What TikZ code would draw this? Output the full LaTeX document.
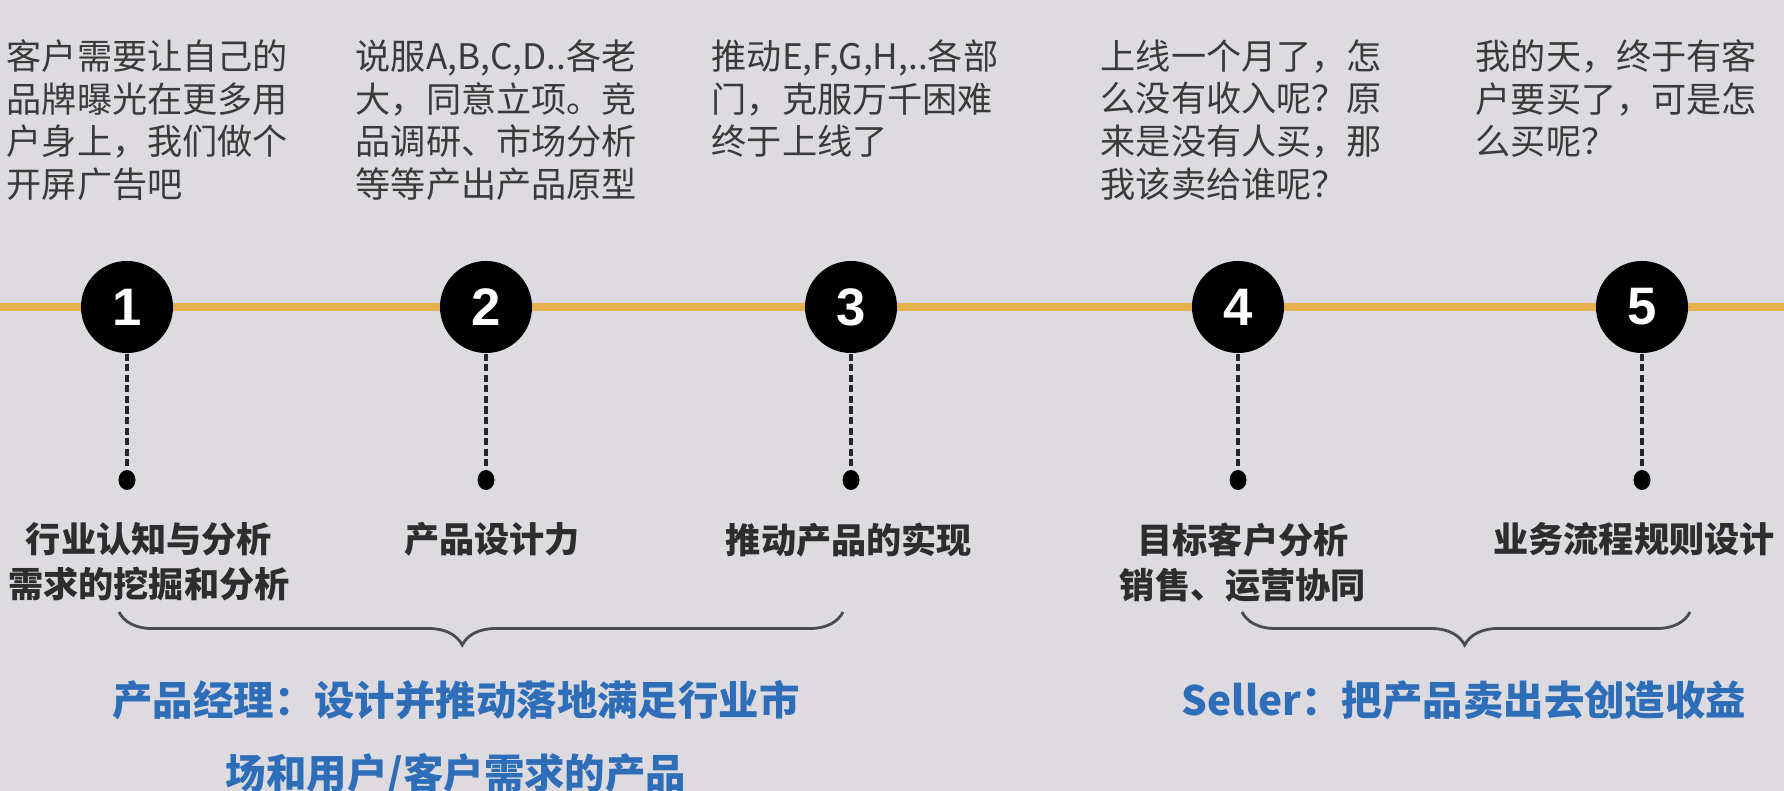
\documentclass[tikz,border=0pt]{standalone}
\usepackage{fontspec}
\setmainfont{Noto Sans CJK SC}
\newfontfamily\numfont{Liberation Sans}
\usetikzlibrary{decorations.pathreplacing}

\definecolor{bgcol}{RGB}{221,219,224}
\definecolor{linecol}{RGB}{231,176,78}
\definecolor{storycol}{RGB}{58,58,58}
\definecolor{skillcol}{RGB}{45,45,45}
\definecolor{bluecol}{RGB}{46,110,185}

\tikzset{
  stepnum/.style={circle, fill=black, minimum size=0.92cm, inner sep=0pt,
    text=white, font=\fontsize{15pt}{15pt}\numfont\bfseries},
  stepdot/.style={ellipse, fill=black, minimum width=0.17cm, minimum height=0.2cm, inner sep=0pt},
  leader/.style={black!85, line width=0.9pt, dash pattern=on 2pt off 1pt},
  story/.style={anchor=north west, inner sep=0pt, align=left, text=storycol,
    font=\fontsize{10pt}{12.1pt}\selectfont},
  skill/.style={anchor=north, inner sep=0pt, align=center, text=skillcol,
    font=\fontsize{10pt}{12.8pt}\selectfont\bfseries},
  role/.style={anchor=north, inner sep=0pt, align=center, text=bluecol,
    font=\fontsize{11.5pt}{20.8pt}\selectfont\bfseries},
  bracket/.style={black!70, line width=0.8pt, decorate}
}
\usetikzlibrary{shapes.geometric}

\begin{document}
\begin{tikzpicture}[x=0.01cm, y=-0.01cm]
  \useasboundingbox (0,0) rectangle (1784,791);
  \fill[bgcol] (0,0) rectangle (1784,791);

  % timeline
  \coordinate (lineL) at (0,307);
  \coordinate (lineR) at (1784,307);
  \draw[linecol, line width=2.4pt] (lineL) -- (lineR);

  % step 1
  \node[story] (s1) at (6,39) {客户需要让自己的\\品牌曝光在更多用\\户身上，我们做个\\开屏广告吧};
  \node[stepnum] (c1) at (127,307) {1};
  \node[stepdot] (d1) at (127,480) {};
  \draw[leader] (c1) -- (d1);
  \node[skill] (k1) at (149,522) {行业认知与分析\\需求的挖掘和分析};

  % step 2
  \node[story] (s2) at (355,39) {说服A,B,C,D..各老\\大，同意立项。竞\\品调研、市场分析\\等等产出产品原型};
  \node[stepnum] (c2) at (486,307) {2};
  \node[stepdot] (d2) at (486,480) {};
  \draw[leader] (c2) -- (d2);
  \node[skill] (k2) at (492,522) {产品设计力};

  % step 3
  \node[story] (s3) at (711,39) {推动E,F,G,H,..各部\\门，克服万千困难\\终于上线了};
  \node[stepnum] (c3) at (851,307) {3};
  \node[stepdot] (d3) at (851,480) {};
  \draw[leader] (c3) -- (d3);
  \node[skill] (k3) at (849,522) {推动产品的实现};

  % step 4
  \node[story] (s4) at (1100,39) {上线一个月了，怎\\么没有收入呢？原\\来是没有人买，那\\我该卖给谁呢？};
  \node[stepnum] (c4) at (1238,307) {4};
  \node[stepdot] (d4) at (1238,480) {};
  \draw[leader] (c4) -- (d4);
  \node[skill] (k4) at (1243,522) {目标客户分析\\销售、运营协同};

  % step 5
  \node[story] (s5) at (1475,39) {我的天，终于有客\\户要买了，可是怎\\么买呢？};
  \node[stepnum] (c5) at (1642,307) {5};
  \node[stepdot] (d5) at (1642,480) {};
  \draw[leader] (c5) -- (d5);
  \node[skill] (k5) at (1634,522) {业务流程规则设计};

  % product manager
  \coordinate (b1L) at (119,612);
  \coordinate (b1R) at (843,612);
  \draw[bracket, decoration={brace, mirror, amplitude=9.4pt, aspect=0.474}] (b1L) -- (b1R);
  \node[role] (r1) at (456,680) {产品经理：设计并推动落地满足行业市\\场和用户/客户需求的产品};

  % seller
  \coordinate (b2L) at (1242,612);
  \coordinate (b2R) at (1690,612);
  \draw[bracket, decoration={brace, mirror, amplitude=9.4pt, aspect=0.497}] (b2L) -- (b2R);
  \node[role] (r2) at (1464,680) {Seller：把产品卖出去创造收益};
\end{tikzpicture}
\end{document}
